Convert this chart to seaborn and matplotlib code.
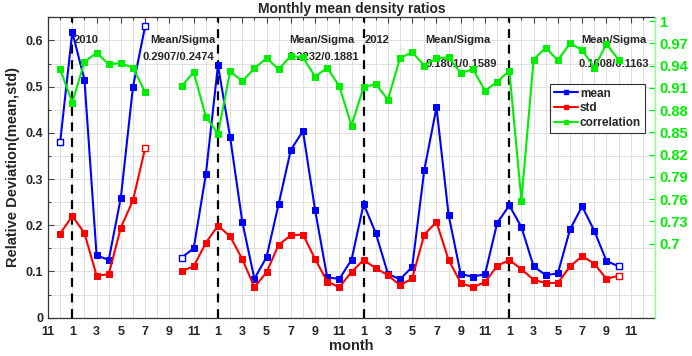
import numpy as np
import pandas as pd
import matplotlib
matplotlib.use("Agg")
import matplotlib.pyplot as plt
import seaborn as sns
from matplotlib.lines import Line2D
from matplotlib.ticker import MultipleLocator

nan = np.nan
# month index: 0 = Nov 2009, 2 = Jan 2010, ...
month_idx = list(range(1, 48))
mean_vals = [0.380, 0.618, 0.515, 0.135, 0.125, 0.260, 0.500, 0.631, nan, nan,
             0.130, 0.150, 0.310, 0.546, 0.391, 0.208, 0.084, 0.131, 0.246, 0.363,
             0.404, 0.233, 0.087, 0.084, 0.125, 0.246, 0.183, 0.095, 0.083, 0.110,
             0.320, 0.455, 0.222, 0.094, 0.089, 0.094, 0.205, 0.243, 0.196, 0.111,
             0.092, 0.096, 0.191, 0.241, 0.188, 0.123, 0.111]
std_vals = [0.182, 0.220, 0.183, 0.091, 0.094, 0.195, 0.254, 0.367, nan, nan,
            0.101, 0.111, 0.162, 0.199, 0.176, 0.127, 0.066, 0.098, 0.158, 0.178,
            0.180, 0.127, 0.078, 0.066, 0.099, 0.125, 0.107, 0.092, 0.070, 0.085,
            0.180, 0.207, 0.125, 0.075, 0.066, 0.077, 0.112, 0.125, 0.105, 0.082,
            0.075, 0.075, 0.111, 0.133, 0.117, 0.084, 0.091]
corr_vals = [0.935, 0.890, 0.945, 0.957, 0.942, 0.943, 0.937, 0.904, nan, nan,
             0.912, 0.931, 0.871, 0.848, 0.932, 0.919, 0.936, 0.950, 0.935, 0.953,
             0.951, 0.925, 0.937, 0.912, 0.859, 0.911, 0.915, 0.894, 0.950, 0.958,
             0.940, 0.950, 0.951, 0.930, 0.935, 0.906, 0.918, 0.933, 0.758, 0.948,
             0.964, 0.947, 0.970, 0.961, 0.937, 0.969, 0.948]

x_tick_pos = list(range(0, 50, 2))
x_tick_labels = ["11", "1", "3", "5", "7", "9", "11", "1", "3", "5", "7", "9", "11",
                 "1", "3", "5", "7", "9", "11", "1", "3", "5", "7", "9", "11"]
year_lines = [2, 14, 26, 38]
left_ticks = [0, 0.1, 0.2, 0.3, 0.4, 0.5, 0.6]
left_labels = ["0", "0.1", "0.2", "0.3", "0.4", "0.5", "0.6"]
right_ticks = [0.7, 0.73, 0.76, 0.79, 0.82, 0.85, 0.88, 0.91, 0.94, 0.97, 1.0]
right_labels = ["0.7", "0.73", "0.76", "0.79", "0.82", "0.85", "0.88", "0.91", "0.94", "0.97", "1"]

annotations = [
    (2.1, 0.601, "2010"),
    (8.4, 0.600, "Mean/Sigma"),
    (7.8, 0.565, "0.2907/0.2474"),
    (19.9, 0.600, "Mean/Sigma"),
    (19.7, 0.565, "0.2232/0.1881"),
    (26.1, 0.601, "2012"),
    (31.1, 0.600, "Mean/Sigma"),
    (31.1, 0.549, "0.1801/0.1589"),
    (43.9, 0.600, "Mean/Sigma"),
    (43.7, 0.549, "0.1608/0.1163"),
]

BLUE = "#0000ff"
RED = "#ff0000"
GREEN = "#00ee00"

df = pd.DataFrame({"month": month_idx, "mean": mean_vals, "std": std_vals, "corr": corr_vals})
df["segment"] = np.where(df["month"] <= 8, 1, 2)
df = df.dropna()

sns.set_style("white")
plt.rcParams["font.family"] = ["Liberation Sans", "DejaVu Sans"]
plt.rcParams["font.weight"] = "bold"

fig = plt.figure(figsize=(6.92, 3.56), dpi=100)
ax = fig.add_axes([0.0694, 0.1076, 0.8771, 0.8438])
ax2 = ax.twinx()

for col, color in [("mean", BLUE), ("std", RED)]:
    sns.lineplot(data=df, x="month", y=col, units="segment", estimator=None, color=color,
                 marker="s", markersize=4, markeredgecolor=color, linewidth=1.5, ax=ax,
                 legend=False, zorder=3)
sns.lineplot(data=df, x="month", y="corr", units="segment", estimator=None, color=GREEN,
             marker="s", markersize=4, markeredgecolor=GREEN, linewidth=1.5, ax=ax2,
             legend=False, zorder=3)

# hollow end markers
ends_mean = df[df["month"].isin([1, 8, 11, 47])]
sns.scatterplot(data=ends_mean, x="month", y="mean", marker="s", s=14, color="white",
                edgecolor=BLUE, linewidth=1.0, ax=ax, zorder=4, legend=False)
ends_std = df[df["month"].isin([8, 47])]
sns.scatterplot(data=ends_std, x="month", y="std", marker="s", s=14, color="white",
                edgecolor=RED, linewidth=1.0, ax=ax, zorder=4, legend=False)

for yl in year_lines:
    ax.axvline(yl, color="black", linestyle=(0, (4, 3)), linewidth=1.6, zorder=2)

ax.set_xlim(0, 50)
ax.set_ylim(0, 0.65)
ax2.set_ylim(0.6, 1.005)

ax.set_xticks(x_tick_pos)
ax.set_xticklabels(x_tick_labels, fontsize=9, fontweight="bold")
ax.xaxis.set_minor_locator(MultipleLocator(1))
ax.set_yticks(left_ticks)
ax.set_yticklabels(left_labels, fontsize=9, fontweight="bold")
ax.yaxis.set_minor_locator(MultipleLocator(0.05))
ax.grid(True, which="both", color="#e0e0e0", linewidth=0.7)
ax.set_axisbelow(True)
ax.tick_params(axis="both", which="both", direction="in", top=True, length=4,
               color="#444444", width=0.8)
ax.tick_params(axis="both", which="minor", length=2.5)
ax.tick_params(axis="x", which="major", pad=6)
ax.tick_params(axis="y", which="both", right=False)

ax2.set_yticks(right_ticks)
ax2.set_yticklabels(right_labels, fontsize=10.5, fontweight="bold", color=GREEN)
ax2.tick_params(axis="y", direction="in", length=4, color=GREEN, pad=3)
ax2.grid(False)

for s in ["left", "bottom", "top"]:
    ax.spines[s].set_color("#333333")
    ax.spines[s].set_linewidth(0.9)
ax.spines["right"].set_visible(False)
ax2.spines["right"].set_color("#88ff88")
ax2.spines["right"].set_linewidth(1.0)
for s in ["left", "bottom", "top"]:
    ax2.spines[s].set_visible(False)

ax.set_xlabel("month", fontsize=10.5, fontweight="bold", labelpad=1)
ax.set_ylabel("Relative Deviation(mean,std)", fontsize=10.5, fontweight="bold", labelpad=4)
ax2.set_ylabel("")
ax.set_title("Monthly mean density ratios", fontsize=10, fontweight="bold", pad=3)

for xx, yy, txt in annotations:
    ax.text(xx, yy, txt, fontsize=8, fontweight="bold", ha="left", va="center", zorder=5)

handles = [
    Line2D([], [], color=BLUE, marker="s", markersize=3, linewidth=1.5),
    Line2D([], [], color=RED, marker="s", markersize=3, linewidth=1.5),
    Line2D([], [], color=GREEN, marker="s", markersize=3, linewidth=1.5),
]
leg = ax2.legend(handles, ["mean", "std", "correlation"], loc="upper right",
                 bbox_to_anchor=(0.983, 0.778), borderaxespad=0, frameon=True, fancybox=False,
                 framealpha=1, edgecolor="#333333", handlelength=2.0, handletextpad=0.2,
                 borderpad=0.3, labelspacing=0.25, prop={"weight": "bold", "size": 8.5})
leg.get_frame().set_linewidth(0.8)

fig.savefig("out.png", dpi=100)
